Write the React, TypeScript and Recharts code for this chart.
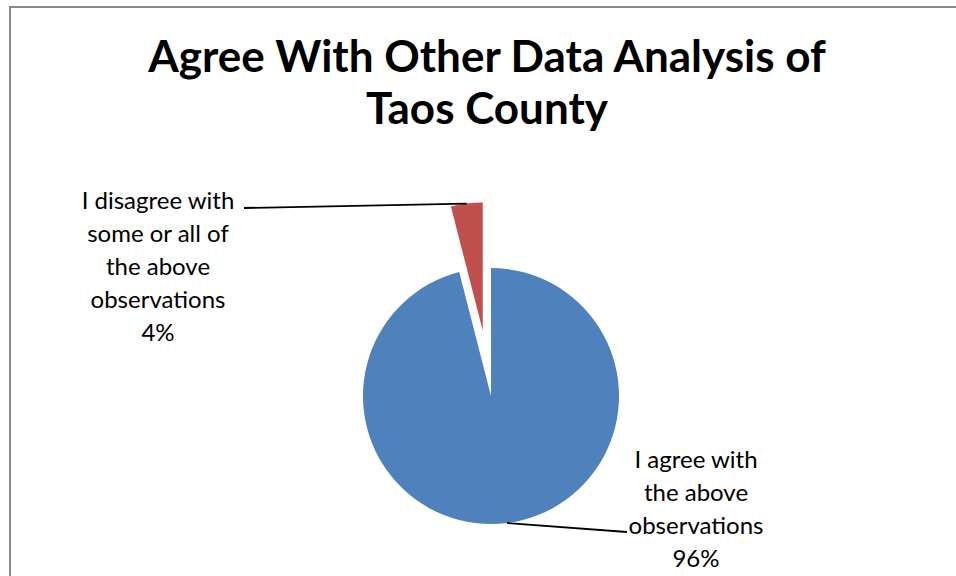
import { PieChart, Pie, Cell } from "recharts";

// chart values
const categories = ["I agree with the above observations", "I disagree with some or all of the above observations"];
const shares = [96, 4];
const colors = ["#4F81BD", "#C0504D"];
const labelLines = [
  ["I agree with", "the above", "observations", "96%"],
  ["I disagree with", "some or all of", "the above", "observations", "4%"],
];
const titleLines = ["Agree With Other Data Analysis of", "Taos County"];

const data = categories.map((name, i) => ({ name, value: shares[i] }));

const W = 956;
const H = 576;
const CX = 491;
const CY = 396;
const R = 128;
const EXPLODE = 66;
const FONT = "Lato, 'Open Sans', sans-serif";
const LINE_H = 33;

// exploded slice (index 1) sits along its mid angle, clockwise from 12 o'clock
const total = shares.reduce((a, b) => a + b, 0);
const midFrac = (shares[0] + shares[1] / 2) / total;
const midRad = midFrac * 2 * Math.PI;
const EX_CX = CX + EXPLODE * Math.sin(midRad);
const EX_CY = CY - EXPLODE * Math.cos(midRad);

const RAD = Math.PI / 180;

// text block placement + leader end, relative to the pie centre
const LABEL_POS = [
  { tx: 205, ty: 72, ex: 136, ey: 136 },
  { tx: -333, ty: -187, ex: -247, ey: -188 },
];

function makeLabel(only: number) {
  return (props: any) => {
    const { cx, cy, midAngle, outerRadius, index } = props;
    if (index !== only) return null;
    const sx = cx + outerRadius * Math.cos(-midAngle * RAD);
    const sy = cy + outerRadius * Math.sin(-midAngle * RAD);
    const pos = LABEL_POS[index];
    return (
      <g>
        <path
          d={`M${sx},${sy}L${CX + pos.ex},${CY + pos.ey}`}
          stroke="#000"
          strokeWidth={1.8}
          fill="none"
        />
        <text
          x={CX + pos.tx}
          y={CY + pos.ty}
          textAnchor="middle"
          fontFamily={FONT}
          fontSize={24}
          fill="#000"
        >
          {labelLines[index].map((t, i) => (
            <tspan key={i} x={CX + pos.tx} dy={i === 0 ? 0 : LINE_H}>
              {t}
            </tspan>
          ))}
        </text>
      </g>
    );
  };
}

export default function App() {
  return (
    <div
      style={{
        position: "fixed",
        left: 0,
        top: 0,
        width: W,
        height: H,
        overflow: "hidden",
        background: "#fff",
      }}
    >
      <div
        style={{
          position: "absolute",
          left: 9,
          top: 6,
          width: W + 40,
          height: H + 40,
          border: "2px solid #8a8a8a",
        }}
      />
      <svg width={W} height={H} style={{ position: "absolute", left: 0, top: 0 }}>
        {titleLines.map((t, i) => (
          <text
            key={i}
            x={487}
            y={72 + i * 52}
            textAnchor="middle"
            fontFamily={FONT}
            fontWeight="bold"
            fontSize={44}
            fill="#000"
          >
            {t}
          </text>
        ))}
      </svg>
      <div style={{ position: "absolute", left: 0, top: 0 }}>
        <PieChart width={W} height={H} margin={{ top: 0, right: 0, bottom: 0, left: 0 }}>
          <Pie
            data={data}
            dataKey="value"
            nameKey="name"
            cx={CX}
            cy={CY}
            outerRadius={R}
            startAngle={90}
            endAngle={-270}
            stroke="none"
            label={makeLabel(0)}
            labelLine={false}
            isAnimationActive={false}
          >
            {data.map((d, i) => (
              <Cell key={d.name} fill={i === 0 ? colors[0] : "transparent"} />
            ))}
          </Pie>
          <Pie
            data={data}
            dataKey="value"
            nameKey="name"
            cx={EX_CX}
            cy={EX_CY}
            outerRadius={R}
            startAngle={90}
            endAngle={-270}
            stroke="none"
            label={makeLabel(1)}
            labelLine={false}
            isAnimationActive={false}
          >
            {data.map((d, i) => (
              <Cell key={d.name} fill={i === 1 ? colors[1] : "transparent"} />
            ))}
          </Pie>
        </PieChart>
      </div>
    </div>
  );
}
